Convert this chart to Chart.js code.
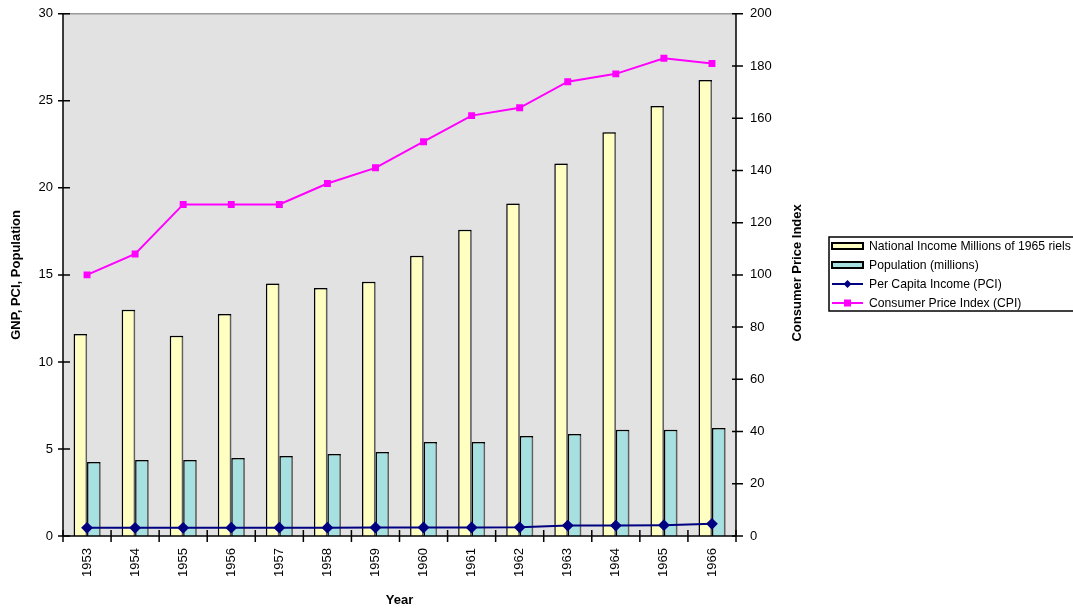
<!DOCTYPE html>
<html><head><meta charset="utf-8">
<script src="https://cdn.jsdelivr.net/npm/chart.js@4/dist/chart.umd.min.js"></script>
<style>html,body{margin:0;padding:0;background:#fff;overflow:hidden}#wrap{width:1073px;height:612px;position:relative}</style>
</head><body><div id="wrap"><canvas id="c"></canvas></div>
<script>
const years = ['1953','1954','1955','1956','1957','1958','1959','1960','1961','1962','1963','1964','1965','1966'];
const nationalIncome = [11.6, 13.0, 11.5, 12.75, 14.5, 14.25, 14.6, 16.1, 17.6, 19.1, 21.4, 23.2, 24.7, 26.2];
const population = [4.25, 4.37, 4.37, 4.48, 4.6, 4.71, 4.83, 5.4, 5.4, 5.75, 5.86, 6.1, 6.1, 6.2];
const perCapitaIncome = [0.47, 0.47, 0.47, 0.48, 0.48, 0.48, 0.49, 0.49, 0.49, 0.5, 0.6, 0.6, 0.62, 0.7];
const cpi = [100, 108, 127, 127, 127, 135, 141, 151, 161, 164, 174, 177, 183, 181];
const leftTitle = 'GNP, PCI, Population';
const rightTitle = 'Consumer Price Index';
const xTitle = 'Year';

const FONT = 'Arial, "Liberation Sans", sans-serif';

const barShadow = {
  id: 'barShadow',
  beforeDatasetDraw(chart, args) {
    if (args.meta.type === 'bar') {
      const ctx = chart.ctx;
      ctx.save();
      ctx.shadowColor = 'rgba(120,120,120,0.8)';
      ctx.shadowOffsetX = 2;
      ctx.shadowOffsetY = 0;
      ctx.shadowBlur = 0;
    }
  },
  afterDatasetDraw(chart, args) {
    if (args.meta.type === 'bar') chart.ctx.restore();
  }
};

const frame = {
  id: 'frame',
  beforeDraw(chart) {
    const {ctx, chartArea: a} = chart;
    ctx.save();
    ctx.fillStyle = '#e2e2e2';
    ctx.fillRect(a.left, a.top, a.right - a.left, a.bottom - a.top);
    ctx.strokeStyle = '#9a9a9a';
    ctx.lineWidth = 1.5;
    ctx.beginPath(); ctx.moveTo(a.left, a.top); ctx.lineTo(a.right, a.top); ctx.stroke();
    ctx.restore();
  },
  afterDraw(chart) {
    const {ctx, chartArea: a, scales} = chart;
    ctx.save();
    ctx.strokeStyle = '#000';
    ctx.lineWidth = 1.5;
    ctx.beginPath();
    ctx.moveTo(a.left, a.top); ctx.lineTo(a.left, a.bottom);
    ctx.moveTo(a.right, a.top); ctx.lineTo(a.right, a.bottom);
    ctx.moveTo(a.left, a.bottom); ctx.lineTo(a.right, a.bottom);
    ctx.stroke();
    ctx.beginPath();
    scales.y.ticks.forEach(t => { const p = scales.y.getPixelForValue(t.value); ctx.moveTo(a.left - 5, p); ctx.lineTo(a.left + 7, p); });
    scales.y1.ticks.forEach(t => { const p = scales.y1.getPixelForValue(t.value); ctx.moveTo(a.right - 4, p); ctx.lineTo(a.right + 7, p); });
    const n = years.length;
    for (let i = 0; i <= n; i++) {
      let p;
      if (i === 0) p = a.left; else if (i === n) p = a.right;
      else p = (scales.x.getPixelForValue(i - 1) + scales.x.getPixelForValue(i)) / 2;
      ctx.moveTo(p, a.bottom - 6); ctx.lineTo(p, a.bottom + 6);
    }
    ctx.stroke();
    ctx.fillStyle = '#000';
    ctx.font = 'bold 13px ' + FONT;
    ctx.textAlign = 'center'; ctx.textBaseline = 'middle';
    ctx.translate(797, (a.top + a.bottom) / 2 - 2);
    ctx.rotate(-Math.PI / 2);
    ctx.fillText(rightTitle, 0, 0);
    ctx.restore();

    // legend
    ctx.save();
    const lx = 829, ly = 237, lw = 260, lh = 74;
    ctx.fillStyle = '#fff';
    ctx.fillRect(lx, ly, lw, lh);
    ctx.strokeStyle = '#000'; ctx.lineWidth = 1.5;
    ctx.strokeRect(lx, ly, lw, lh);
    ctx.font = '12.2px ' + FONT;
    ctx.textBaseline = 'middle'; ctx.textAlign = 'left';
    chart.data.datasets.forEach((ds, i) => {
      const y = ly + 9 + i * 19;
      const sx = lx + 3, sw = 31;
      if (ds.type === 'bar') {
        ctx.fillStyle = ds.backgroundColor;
        ctx.fillRect(sx, y - 3, sw, 6);
        ctx.strokeStyle = '#000'; ctx.lineWidth = 2;
        ctx.strokeRect(sx, y - 3, sw, 6);
      } else {
        ctx.strokeStyle = ds.borderColor; ctx.lineWidth = 2;
        ctx.beginPath(); ctx.moveTo(sx, y); ctx.lineTo(sx + sw, y); ctx.stroke();
        ctx.fillStyle = ds.pointBackgroundColor;
        const cx = sx + sw / 2;
        ctx.beginPath();
        if (ds.pointStyle === 'rectRot') {
          ctx.moveTo(cx, y - 4); ctx.lineTo(cx + 4, y); ctx.lineTo(cx, y + 4); ctx.lineTo(cx - 4, y);
        } else {
          ctx.rect(cx - 3.5, y - 3.5, 7, 7);
        }
        ctx.closePath(); ctx.fill();
      }
      ctx.fillStyle = '#000';
      ctx.fillText(ds.label, lx + 40, y + 0.5);
    });
    ctx.restore();
  }
};

new Chart(document.getElementById('c'), {
  data: {
    labels: years,
    datasets: [
      { type: 'bar', label: 'National Income Millions of 1965 riels', data: nationalIncome, yAxisID: 'y',
        backgroundColor: '#ffffc2', borderColor: '#000', borderWidth: 1.5, order: 2,
        categoryPercentage: 0.56, barPercentage: 1.0 },
      { type: 'bar', label: 'Population (millions)', data: population, yAxisID: 'y',
        backgroundColor: '#a6e0e0', borderColor: '#000', borderWidth: 1.5, order: 2,
        categoryPercentage: 0.56, barPercentage: 1.0 },
      { type: 'line', label: 'Per Capita Income (PCI)', data: perCapitaIncome, yAxisID: 'y',
        borderColor: '#000080', backgroundColor: '#000080', pointBackgroundColor: '#000080', pointBorderColor: '#000080',
        borderWidth: 2, pointStyle: 'rectRot', pointRadius: 4.5, tension: 0, order: 1 },
      { type: 'line', label: 'Consumer Price Index (CPI)', data: cpi, yAxisID: 'y1',
        borderColor: '#ff00ff', backgroundColor: '#ff00ff', pointBackgroundColor: '#ff00ff', pointBorderColor: '#ff00ff',
        borderWidth: 2, pointStyle: 'rect', pointRadius: 3.5, tension: 0, order: 0 }
    ]
  },
  options: {
    responsive: true, maintainAspectRatio: false, animation: false,
    devicePixelRatio: 1,
    layout: { padding: { top: 11, right: 267, bottom: 0, left: 0 } },
    plugins: { legend: { display: false }, tooltip: { enabled: false } },
    scales: {
      x: {
        grid: { display: false }, border: { display: false },
        ticks: { color: '#000', font: { family: FONT, size: 13 }, minRotation: 90, maxRotation: 90, padding: 4, autoSkip: false },
        title: { display: true, text: xTitle, color: '#000', font: { family: FONT, size: 13, weight: 'bold' }, padding: { top: 0, bottom: 4 } },
        afterFit(s) { s.height = 76; }
      },
      y: {
        position: 'left', min: 0, max: 30,
        grid: { display: false }, border: { display: false },
        ticks: { stepSize: 5, color: '#000', font: { family: FONT, size: 13 }, padding: 2 },
        title: { display: true, text: leftTitle, color: '#000', font: { family: FONT, size: 13, weight: 'bold' }, padding: { top: 9, bottom: 0 } },
        afterFit(s) { s.width = 63; }
      },
      y1: {
        position: 'right', min: 0, max: 200,
        grid: { display: false }, border: { display: false },
        ticks: { stepSize: 20, color: '#000', font: { family: FONT, size: 13 }, padding: 6 },
        afterFit(s) { s.width = 70; }
      }
    }
  },
  plugins: [barShadow, frame]
});
</script>
</body></html>
